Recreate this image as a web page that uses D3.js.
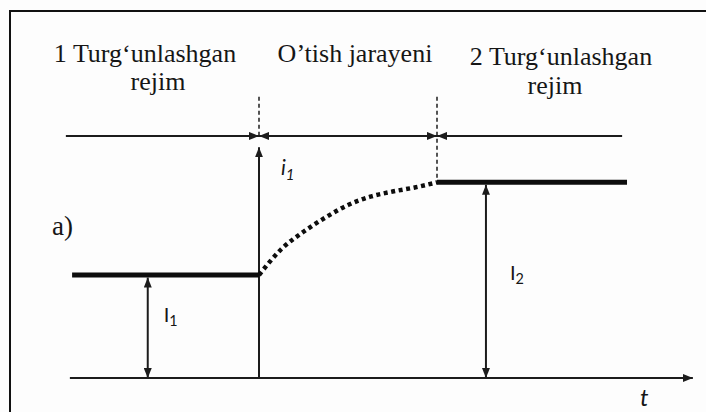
<!DOCTYPE html>
<html><head><meta charset="utf-8"><script src="https://cdn.jsdelivr.net/npm/d3@7"></script></head>
<body style="margin:0;background:#fdfdfd">
<svg id="s" width="706" height="412" style="display:block"></svg>
<script>
// Key instants (time units): switching moment and end of the transient
const tSwitch = 4;
const tSettled = 8;
const tAxis = [-0.25, 13.75];          // extent of the time axis
const tLevel1 = [-0.2, tSwitch];       // first steady state
const tLevel2 = [tSettled, 12.27];     // second steady state
const tSpanLine = [-0.34, 12.16];      // regime span line above the plot

// Steady-state currents
const I1 = 1.0;
const I2 = 1.9;
const iSpan = 2.35;    // level of the span arrows
const iMarkTop = 2.73; // top of the dashed boundary marks
const iAxisTop = 2.24; // tip of the current arrow at the switching instant

// Transient current i1(t) between the two regimes
const transT = [4.0, 4.5, 5.0, 5.5, 6.0, 6.5, 7.0, 7.5, 8.0];
const transI = [1.00, 1.25, 1.42, 1.56, 1.68, 1.76, 1.81, 1.85, 1.90];

// Dimension arrows for the steady currents
const tI1Arrow = 1.5;
const tI2Arrow = 9.1;

// Regime captions
const captionLeft = ["1 Turg\u2018unlashgan", "rejim"];
const captionMid = ["O\u2019tish jarayeni"];
const captionRight = ["2 Turg\u2018unlashgan", "rejim"];

const svg = d3.select("#s");
const ink = "#1c1c1c";

const x = d3.scaleLinear().domain([0, 4]).range([81, 259]);
const y = d3.scaleLinear().domain([0, 1]).range([378, 275]);

// Captions first: serif text, one line per element (centre, baseline)
function caption(lines, layout) {
  lines.forEach((s, i) => {
    const [cx, by] = layout[i];
    svg.append("text")
      .attr("x", cx).attr("y", by).attr("font-size", 26)
      .style("font-family", "\"Times New Roman\"")
      .attr("text-anchor", "middle")
      .attr("fill", "#161616")
      .text(s);
  });
}
caption(captionLeft, [[145, 62], [158, 90]]);
caption(captionMid, [[355, 62]]);
caption(captionRight, [[561, 65], [555, 94]]);

svg.append("text")
  .attr("x", 52).attr("y", 235).attr("font-size", 27)
  .style("font-family", "\"Times New Roman\"")
  .attr("fill", "#161616")
  .text("a)");

// Arrow markers
const defs = svg.append("defs");
function marker(id, orient) {
  defs.append("marker")
    .attr("id", id)
    .attr("viewBox", "0 0 10 8")
    .attr("refX", 10).attr("refY", 4)
    .attr("markerWidth", 10).attr("markerHeight", 8)
    .attr("markerUnits", "userSpaceOnUse")
    .attr("orient", orient)
    .append("path")
    .attr("d", "M0,0 L10,4 L0,8 Z")
    .attr("fill", ink);
}
marker("arrowEnd", "auto");
marker("arrowStart", "auto-start-reverse");

// Outer frame (left and top edges)
svg.append("path")
  .attr("d", "M10,412 L10,11 L706,11")
  .attr("fill", "none").attr("stroke", "#111").attr("stroke-width", 2);

const line = (x1, y1, x2, y2) => svg.append("line")
  .attr("x1", x1).attr("y1", y1).attr("x2", x2).attr("y2", y2)
  .attr("stroke", ink);

// Time axis
line(x(tAxis[0]), y(0), x(tAxis[1]), y(0))
  .attr("stroke-width", 2).attr("marker-end", "url(#arrowEnd)");

// Current arrow at the switching instant
line(x(tSwitch), y(0), x(tSwitch), y(iAxisTop))
  .attr("stroke-width", 2).attr("marker-end", "url(#arrowEnd)");

// Dashed regime boundaries
line(x(tSwitch), y(iMarkTop), x(tSwitch), y(iSpan))
  .attr("stroke-width", 1.5).attr("stroke-dasharray", "4 3");
line(x(tSettled), y(iMarkTop), x(tSettled), y(I2))
  .attr("stroke-width", 1.5).attr("stroke-dasharray", "4 3");

// Regime span arrows
line(x(tSpanLine[0]), y(iSpan), x(tSwitch), y(iSpan))
  .attr("stroke-width", 2).attr("marker-end", "url(#arrowEnd)");
line(x(tSwitch), y(iSpan), x(tSettled), y(iSpan))
  .attr("stroke-width", 2)
  .attr("marker-start", "url(#arrowStart)").attr("marker-end", "url(#arrowEnd)");
line(x(tSettled), y(iSpan), x(tSpanLine[1]), y(iSpan))
  .attr("stroke-width", 2).attr("marker-start", "url(#arrowStart)");

// Steady-state levels
line(x(tLevel1[0]), y(I1), x(tLevel1[1]), y(I1)).attr("stroke-width", 5).attr("stroke", "#0d0d0d");
line(x(tLevel2[0]), y(I2), x(tLevel2[1]), y(I2)).attr("stroke-width", 5).attr("stroke", "#0d0d0d");

// Transient current
const trans = transT.map((t, i) => [t, transI[i]]);
svg.append("path")
  .datum(trans)
  .attr("d", d3.line().x(d => x(d[0])).y(d => y(d[1])).curve(d3.curveMonotoneX))
  .attr("fill", "none").attr("stroke", "#0d0d0d")
  .attr("stroke-width", 4.5).attr("stroke-dasharray", "4 3.6");

// Dimension arrows for I1 and I2
line(x(tI1Arrow), y(I1) + 2.5, x(tI1Arrow), y(0))
  .attr("stroke-width", 2)
  .attr("marker-start", "url(#arrowStart)").attr("marker-end", "url(#arrowEnd)");
line(x(tI2Arrow), y(I2) + 2.5, x(tI2Arrow), y(0))
  .attr("stroke-width", 2)
  .attr("marker-start", "url(#arrowStart)").attr("marker-end", "url(#arrowEnd)");

// Symbol labels
function symbol(base, sub, px, py, size, italic) {
  const t = svg.append("text")
    .attr("x", px).attr("y", py).attr("font-size", size)
    .style("font-family", "Lato")
    .attr("font-style", italic ? "italic" : "normal")
    .attr("fill", "#161616");
  t.append("tspan").text(base);
  t.append("tspan").attr("font-size", size * 0.72).attr("dy", size * 0.22).text(sub);
}
symbol("i", "1", x(tSwitch) + 22, 175, 21, true);
symbol("I", "1", x(tI1Arrow) + 16, 322, 20, false);
symbol("I", "2", x(tI2Arrow) + 24, 280, 20, false);

svg.append("text")
  .attr("x", 640).attr("y", 406).attr("font-size", 24)
  .style("font-family", "Lato")
  .attr("font-style", "italic").attr("fill", "#161616")
  .text("t");
</script>
</body>
</html>
